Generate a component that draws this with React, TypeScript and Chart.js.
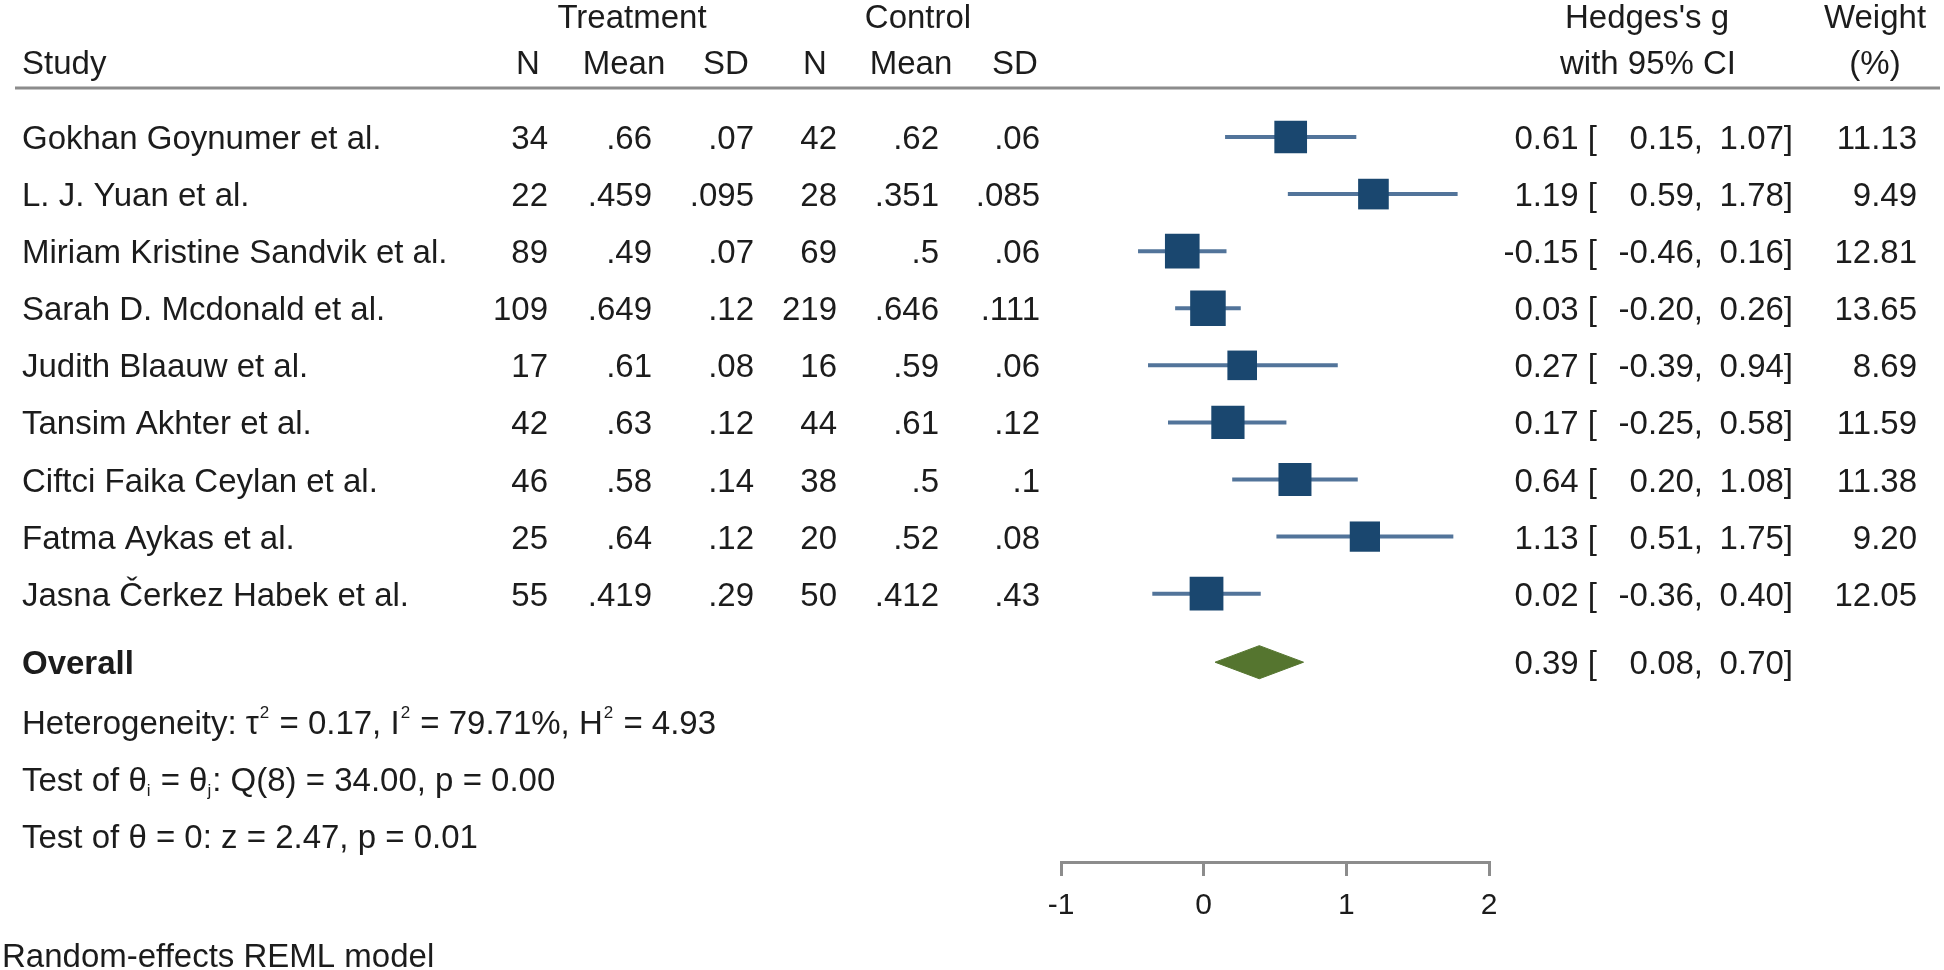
import React, { useEffect, useRef } from 'react';
import { Chart, registerables } from 'chart.js';

Chart.register(...registerables);

// ---------------- data ----------------
const studies = [
  'Gokhan Goynumer et al.',
  'L. J. Yuan et al.',
  'Miriam Kristine Sandvik et al.',
  'Sarah D. Mcdonald et al.',
  'Judith Blaauw et al.',
  'Tansim Akhter et al.',
  'Ciftci Faika Ceylan et al.',
  'Fatma Aykas et al.',
  'Jasna Čerkez Habek et al.',
];
const treatN = [34, 22, 89, 109, 17, 42, 46, 25, 55];
const treatMean = [0.66, 0.459, 0.49, 0.649, 0.61, 0.63, 0.58, 0.64, 0.419];
const treatSD = [0.07, 0.095, 0.07, 0.12, 0.08, 0.12, 0.14, 0.12, 0.29];
const ctrlN = [42, 28, 69, 219, 16, 44, 38, 20, 50];
const ctrlMean = [0.62, 0.351, 0.5, 0.646, 0.59, 0.61, 0.5, 0.52, 0.412];
const ctrlSD = [0.06, 0.085, 0.06, 0.111, 0.06, 0.12, 0.1, 0.08, 0.43];
const hedgesG = [0.61, 1.19, -0.15, 0.03, 0.27, 0.17, 0.64, 1.13, 0.02];
const ciLow = [0.15, 0.59, -0.46, -0.2, -0.39, -0.25, 0.2, 0.51, -0.36];
const ciHigh = [1.07, 1.78, 0.16, 0.26, 0.94, 0.58, 1.08, 1.75, 0.4];
const weights = [11.13, 9.49, 12.81, 13.65, 8.69, 11.59, 11.38, 9.2, 12.05];

const overallG = 0.39;
const overallLow = 0.08;
const overallHigh = 0.7;

const tau2 = 0.17;
const i2 = 79.71;
const h2 = 4.93;
const qStat = 34.0;
const qDf = 8;
const qP = 0.0;
const zStat = 2.47;
const zP = 0.01;

const xTicks = [-1, 0, 1, 2];

// ---------------- styles ----------------
const FONT = '"Liberation Sans", Arial, Helvetica, sans-serif';
const TEXT = '#1c1c1c';
const NAVY = '#1a476f';
const CI_COLOR = '#52749a';
const GREEN = '#55752f';
const RULE = '#8c8c8c';
const FS = 33;
const OVERALL_ROW = 9.2;
const DIAMOND_HALF = 0.29;

const fmtMean = (v: number) => {
  const s = String(v);
  return s.startsWith('0.') ? s.slice(1) : s;
};
const f2 = (v: number) => v.toFixed(2);

type Part = { t: string; sup?: boolean; sub?: boolean; bold?: boolean };

function drawRich(ctx: CanvasRenderingContext2D, parts: Part[], x: number, y: number) {
  let cx = x;
  ctx.textAlign = 'left';
  for (const p of parts) {
    if (p.sup) {
      ctx.font = `${Math.round(FS * 0.5)}px ${FONT}`;
      ctx.fillText(p.t, cx + 1, y - FS * 0.5);
      cx += ctx.measureText(p.t).width + 2;
    } else if (p.sub) {
      ctx.font = `${Math.round(FS * 0.5)}px ${FONT}`;
      ctx.fillText(p.t, cx, y + FS * 0.15);
      cx += ctx.measureText(p.t).width + 1;
    } else {
      ctx.font = `${p.bold ? 'bold ' : ''}${FS}px ${FONT}`;
      ctx.fillText(p.t, cx, y);
      cx += ctx.measureText(p.t).width;
    }
  }
}

const tablePlugin = {
  id: 'forestTable',
  afterDraw(chart: any) {
    const ctx: CanvasRenderingContext2D = chart.ctx;
    const ys = chart.scales.y;
    const base = (r: number) => ys.getPixelForValue(r) + 12;
    ctx.save();
    ctx.fillStyle = TEXT;
    ctx.textBaseline = 'alphabetic';
    ctx.font = `${FS}px ${FONT}`;

    // header
    const put = (t: string, x: number, y: number, align: CanvasTextAlign) => {
      ctx.textAlign = align;
      ctx.fillText(t, x, y);
    };
    put('Treatment', 632, 28, 'center');
    put('Control', 918, 28, 'center');
    put("Hedges's g", 1647, 28, 'center');
    put('Weight', 1875, 28, 'center');
    put('Study', 22, 74, 'left');
    put('N', 528, 74, 'center');
    put('Mean', 624, 74, 'center');
    put('SD', 726, 74, 'center');
    put('N', 815, 74, 'center');
    put('Mean', 911, 74, 'center');
    put('SD', 1015, 74, 'center');
    put('with 95% CI', 1648, 74, 'center');
    put('(%)', 1875, 74, 'center');

    // rule
    ctx.strokeStyle = RULE;
    ctx.lineWidth = 3;
    ctx.beginPath();
    ctx.moveTo(15, 88);
    ctx.lineTo(1940, 88);
    ctx.stroke();

    // rows
    studies.forEach((s, i) => {
      const y = base(i);
      put(s, 22, y, 'left');
      put(String(treatN[i]), 548, y, 'right');
      put(fmtMean(treatMean[i]), 652, y, 'right');
      put(fmtMean(treatSD[i]), 754, y, 'right');
      put(String(ctrlN[i]), 837, y, 'right');
      put(fmtMean(ctrlMean[i]), 939, y, 'right');
      put(fmtMean(ctrlSD[i]), 1040, y, 'right');
      put(f2(hedgesG[i]) + ' [', 1597, y, 'right');
      put(f2(ciLow[i]) + ',', 1703, y, 'right');
      put(f2(ciHigh[i]) + ']', 1793, y, 'right');
      put(f2(weights[i]), 1917, y, 'right');
    });

    // overall
    const yo = base(OVERALL_ROW);
    ctx.font = `bold ${FS}px ${FONT}`;
    put('Overall', 22, yo, 'left');
    ctx.font = `${FS}px ${FONT}`;
    put(f2(overallG) + ' [', 1597, yo, 'right');
    put(f2(overallLow) + ',', 1703, yo, 'right');
    put(f2(overallHigh) + ']', 1793, yo, 'right');

    drawRich(ctx, [
      { t: 'Heterogeneity: \u03C4' }, { t: '2', sup: true },
      { t: ' = ' + f2(tau2) + ', I' }, { t: '2', sup: true },
      { t: ' = ' + f2(i2) + '%, H' }, { t: '2', sup: true },
      { t: ' = ' + f2(h2) },
    ], 22, 734);
    drawRich(ctx, [
      { t: 'Test of \u03B8' }, { t: 'i', sub: true },
      { t: ' = \u03B8' }, { t: 'j', sub: true },
      { t: ': Q(' + qDf + ') = ' + f2(qStat) + ', p = ' + f2(qP) },
    ], 22, 791);
    drawRich(ctx, [
      { t: 'Test of \u03B8 = 0: z = ' + f2(zStat) + ', p = ' + f2(zP) },
    ], 22, 848);
    drawRich(ctx, [{ t: 'Random-effects REML model' }], 2, 967);

    ctx.restore();
  },
};

export default function App() {
  const ref = useRef<HTMLCanvasElement | null>(null);

  useEffect(() => {
    if (!ref.current) return;

    const ciSets = studies.map((_, i) => ({
      type: 'line' as const,
      data: [
        { x: ciLow[i], y: i },
        { x: ciHigh[i], y: i },
      ],
      borderColor: CI_COLOR,
      borderWidth: 4,
      pointRadius: 0,
      fill: false,
      clip: false as any,
      order: 3,
    }));

    const squares = {
      type: 'line' as const,
      data: hedgesG.map((g, i) => ({ x: g, y: i })),
      showLine: false,
      pointStyle: 'rect' as const,
      pointRadius: weights.map((w) => (8 * Math.sqrt(w) + 6) / Math.SQRT2),
      pointBackgroundColor: NAVY,
      pointBorderColor: NAVY,
      pointBorderWidth: 0,
      clip: false as any,
      order: 1,
    };

    const diamond = {
      type: 'line' as const,
      data: [
        { x: overallLow, y: OVERALL_ROW },
        { x: overallG, y: OVERALL_ROW - DIAMOND_HALF },
        { x: overallHigh, y: OVERALL_ROW },
        { x: overallG, y: OVERALL_ROW + DIAMOND_HALF },
        { x: overallLow, y: OVERALL_ROW },
      ],
      borderColor: GREEN,
      backgroundColor: GREEN,
      borderWidth: 1,
      pointRadius: 0,
      tension: 0,
      fill: 'shape' as any,
      clip: false as any,
      order: 2,
    };

    const chart = new Chart(ref.current, {
      type: 'line',
      data: { datasets: [...ciSets, squares, diamond] as any },
      options: {
        responsive: false,
        animation: false,
        events: [],
        layout: { padding: { left: 1061, right: 455, top: 137, bottom: 0 } },
        plugins: {
          legend: { display: false },
          tooltip: { enabled: false },
        },
        scales: {
          x: {
            type: 'linear',
            min: -1,
            max: 2,
            afterBuildTicks: (s: any) => {
              s.ticks = xTicks.map((v) => ({ value: v }));
            },
            afterFit: (s: any) => {
              s.height = 108;
            },
            grid: {
              drawOnChartArea: false,
              drawTicks: true,
              tickLength: 14,
              color: RULE,
              lineWidth: 3,
            },
            border: { display: true, color: RULE, width: 3 },
            ticks: {
              color: TEXT,
              padding: 12,
              font: { size: 30, family: FONT },
              maxRotation: 0,
              callback: (v: any) => String(v),
            },
          },
          y: {
            type: 'linear',
            display: false,
            min: 0,
            max: 12.7,
            reverse: true,
          },
        },
      },
      plugins: [tablePlugin],
    });

    return () => chart.destroy();
  }, []);

  return (
    <div style={{ position: 'fixed', left: 0, top: 0, width: 1944, height: 970, background: '#fff' }}>
      <canvas ref={ref} width={1944} height={970} style={{ display: 'block' }} />
    </div>
  );
}
